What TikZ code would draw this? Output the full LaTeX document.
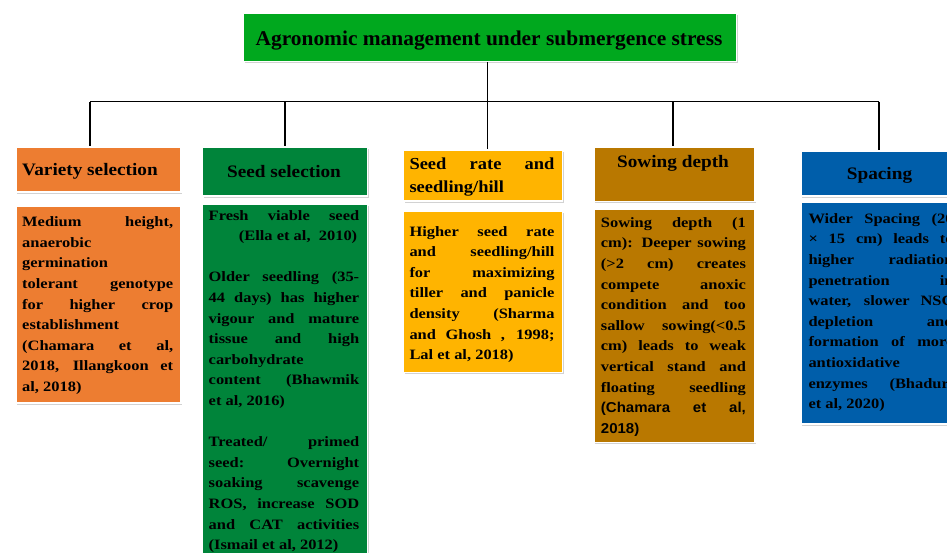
\documentclass[tikz,border=0pt]{standalone}
\usepackage{fontspec}
\setmainfont{Liberation Serif}
\newfontfamily\sansf[FakeStretch=1.05]{Liberation Sans}
\newfontfamily\bodyf[FakeStretch=1.15]{Liberation Serif}
\newfontfamily\headf[FakeStretch=1.1]{Liberation Serif}
\newfontfamily\titlef[FakeStretch=1.02]{Liberation Serif}
\usetikzlibrary{shadows}
\definecolor{cOrange}{RGB}{237,125,49}
\definecolor{cGreen}{RGB}{0,132,58}
\definecolor{cTitle}{RGB}{0,168,30}
\definecolor{cGold}{RGB}{255,180,0}
\definecolor{cBrown}{RGB}{185,120,0}
\definecolor{cBlue}{RGB}{0,94,170}
\tikzset{
 box/.style={draw=white, line width=1.6pt, anchor=north west, inner sep=0pt,
   drop shadow={opacity=0.35, shadow xshift=1.2pt, shadow yshift=-1.8pt}},
 conn/.style={line width=1.8pt, black},
 bodytext/.style={anchor=base west, inner sep=0pt, align=justify,
   font=\bodyf\bfseries\fontsize{14.3}{20.6}\selectfont},
 headtext/.style={inner sep=0pt, font=\headf\bfseries\fontsize{17.5}{23.4}\selectfont},
}
\begin{document}
\begin{tikzpicture}[x=1pt, y=-1pt]
\useasboundingbox (0,0) rectangle (947,552);
\clip (0,0) rectangle (947,552);
\fill[white] (0,0) rectangle (947,552);

% title
\node[box, fill=cTitle, minimum width=493pt, minimum height=48pt] (title) at (242.7,12.7) {};
\node[inner sep=0pt, anchor=base, font=\titlef\bfseries\fontsize{21}{25}\selectfont] (titletext) at (489,45) {Agronomic management under submergence stress};

% headers
\node[box, fill=cOrange, minimum width=165pt, minimum height=45pt] (vh) at (15,146) {};
\node[box, fill=cGreen, minimum width=165pt, minimum height=49pt] (sh) at (201.7,146) {};
\node[box, fill=cGold, minimum width=159pt, minimum height=51pt] (rh) at (402.7,149) {};
\node[box, fill=cBrown, minimum width=160.7pt, minimum height=54.7pt] (dh) at (593.3,146) {};
\node[box, fill=cBlue, minimum width=161pt, minimum height=45pt] (ph) at (800,150) {};

\node[headtext, anchor=base west] (vht) at (22,175) {Variety selection};
\node[headtext, anchor=base] (sht) at (284,177.7) {Seed selection};
\node[headtext, anchor=base west, text width=145pt, align=justify,
  font=\headf\bfseries\fontsize{16.8}{23.4}\selectfont] (rht) at (409.3,169.3) {Seed rate and\linebreak seedling/hill};
\node[headtext, anchor=base] (dht) at (673,167.3) {Sowing depth};
\node[headtext, anchor=base] (pht) at (879.5,179.3) {Spacing};

% bodies
\node[box, fill=cOrange, minimum width=165pt, minimum height=197pt] (vb) at (15,205) {};
\node[box, fill=cGreen, minimum width=165pt, minimum height=370pt] (sb) at (201.7,203.3) {};
\node[box, fill=cGold, minimum width=159pt, minimum height=161.7pt] (rb) at (402.7,210) {};
\node[box, fill=cBrown, minimum width=160.7pt, minimum height=233.4pt] (db) at (593.3,208.3) {};
\node[box, fill=cBlue, minimum width=161pt, minimum height=221.6pt] (pb) at (800,201.7) {};

\node[bodytext, text width=151pt] (vbt) at (22,226.7) {Medium height,\linebreak anaerobic\linebreak germination\linebreak tolerant genotype\linebreak for higher crop\linebreak establishment\linebreak (Chamara et al,\linebreak 2018, Illangkoon et\linebreak al, 2018)};

\node[bodytext, text width=150.5pt] (sbt) at (208.5,220) {Fresh viable seed\linebreak \hspace*{\fill}(Ella et al,\ \ 2010)\hspace*{2pt}{\parfillskip=0pt\par}\vskip20.6pt
Older seedling (35-\linebreak 44 days) has higher\linebreak vigour and mature\linebreak tissue and high\linebreak carbohydrate\linebreak content (Bhawmik\linebreak et al, 2016)\par\vskip20.6pt
Treated/ primed\linebreak seed: Overnight\linebreak soaking scavenge\linebreak ROS, increase SOD\linebreak and CAT activities\linebreak (Ismail et al, 2012)};

\node[bodytext, text width=145pt] (rbt) at (409.3,236) {Higher seed rate\linebreak and seedling/hill\linebreak for maximizing\linebreak tiller and panicle\linebreak density (Sharma\linebreak and Ghosh , 1998;\linebreak Lal et al, 2018)};

\node[bodytext, text width=145pt] (dbt) at (600.7,227.3) {Sowing depth (1\linebreak cm): Deeper sowing\linebreak (>2 cm) creates\linebreak compete anoxic\linebreak condition and too\linebreak sallow sowing(<0.5\linebreak cm) leads to weak\linebreak vertical stand and\linebreak floating seedling\linebreak {\sansf (Chamara et al,\linebreak 2018)}};

\node[bodytext, text width=145pt] (pbt) at (808.3,223.3) {Wider Spacing (20\linebreak × 15 cm) leads to\linebreak higher radiation\linebreak penetration in\linebreak water, slower NSC\linebreak depletion and\linebreak formation of more\linebreak antioxidative\linebreak enzymes (Bhaduri\linebreak et al, 2020)};

% connectors
\coordinate (hub) at (487.5,101.5);
\coordinate (c1) at (90,101.5);
\coordinate (c2) at (285,101.5);
\coordinate (c4) at (673,101.5);
\coordinate (c5) at (879,101.5);
\draw[conn] (title.south -| hub) -- (hub);
\draw[conn] (c1) -- (c5);
\draw[conn] (c1) -- (c1 |- vh.north);
\draw[conn] (c2) -- (c2 |- sh.north);
\draw[conn] (hub) -- (hub |- rh.north);
\draw[conn] (c4) -- (c4 |- dh.north);
\draw[conn] (c5) -- (c5 |- ph.north);
\end{tikzpicture}
\end{document}
